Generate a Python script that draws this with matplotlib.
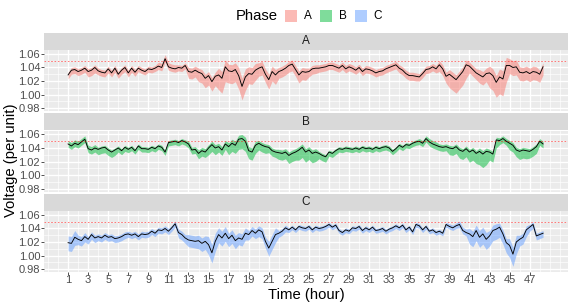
import numpy as np
import matplotlib
matplotlib.use("Agg")
import matplotlib.pyplot as plt
from matplotlib.patches import Rectangle

plt.rcParams["font.family"] = ["Liberation Sans", "DejaVu Sans"]

# ---------------- data ----------------
phases = ["A", "B", "C"]
phase_colors = ["#F8766D", "#00BA38", "#619CFF"]
x_breaks = list(range(1, 48, 2))
y_breaks = [0.98, 1.00, 1.02, 1.04, 1.06]
limit_v = 1.05
samples_per_hour = 3
hours = list(range(1, 49))

mean_A = [1.029, 1.036, 1.037, 1.034, 1.036, 1.039, 1.034, 1.036, 1.040, 1.035, 1.033, 1.032,
          1.038, 1.032, 1.039, 1.030, 1.036, 1.040, 1.032, 1.039, 1.033, 1.039, 1.036, 1.034,
          1.038, 1.037, 1.039, 1.042, 1.040, 1.053, 1.041, 1.039, 1.038, 1.040, 1.039, 1.043,
          1.034, 1.033, 1.036, 1.033, 1.031, 1.024, 1.028, 1.019, 1.027, 1.029, 1.024, 1.041,
          1.035, 1.034, 1.037, 1.028, 1.012, 1.026, 1.031, 1.030, 1.036, 1.039, 1.041, 1.030,
          1.022, 1.034, 1.029, 1.034, 1.036, 1.039, 1.043, 1.045, 1.037, 1.029, 1.034, 1.033,
          1.034, 1.038, 1.039, 1.039, 1.040, 1.041, 1.043, 1.043, 1.041, 1.039, 1.043, 1.038,
          1.041, 1.039, 1.036, 1.040, 1.034, 1.038, 1.037, 1.035, 1.032, 1.034, 1.035, 1.038,
          1.040, 1.042, 1.044, 1.039, 1.036, 1.031, 1.028, 1.028, 1.027, 1.026, 1.031, 1.037,
          1.038, 1.041, 1.038, 1.044, 1.038, 1.027, 1.030, 1.026, 1.022, 1.028, 1.034, 1.044,
          1.042, 1.037, 1.032, 1.029, 1.026, 1.031, 1.032, 1.028, 1.018, 1.026, 1.023, 1.043,
          1.043, 1.040, 1.041, 1.033, 1.032, 1.034, 1.031, 1.034, 1.033, 1.030, 1.041]

mean_B = [1.046, 1.043, 1.047, 1.045, 1.049, 1.053, 1.039, 1.037, 1.040, 1.038, 1.040, 1.041,
          1.037, 1.034, 1.037, 1.040, 1.036, 1.041, 1.038, 1.041, 1.036, 1.043, 1.039, 1.039,
          1.038, 1.041, 1.039, 1.043, 1.041, 1.034, 1.048, 1.049, 1.050, 1.048, 1.051, 1.049,
          1.046, 1.037, 1.038, 1.032, 1.036, 1.034, 1.040, 1.045, 1.040, 1.042, 1.037, 1.046,
          1.042, 1.047, 1.044, 1.053, 1.054, 1.050, 1.036, 1.034, 1.044, 1.047, 1.044, 1.042,
          1.041, 1.036, 1.034, 1.033, 1.032, 1.034, 1.029, 1.032, 1.034, 1.037, 1.041, 1.034,
          1.037, 1.032, 1.034, 1.032, 1.029, 1.027, 1.034, 1.032, 1.036, 1.039, 1.038, 1.040,
          1.039, 1.038, 1.040, 1.038, 1.041, 1.039, 1.040, 1.038, 1.041, 1.039, 1.041, 1.042,
          1.040, 1.035, 1.039, 1.044, 1.041, 1.045, 1.044, 1.047, 1.049, 1.050, 1.047, 1.054,
          1.049, 1.046, 1.044, 1.042, 1.041, 1.042, 1.040, 1.039, 1.042, 1.037, 1.035, 1.039,
          1.034, 1.037, 1.032, 1.035, 1.031, 1.035, 1.034, 1.031, 1.052, 1.051, 1.054, 1.050,
          1.047, 1.044, 1.037, 1.035, 1.037, 1.036, 1.035, 1.038, 1.042, 1.050, 1.046]

mean_C = [1.019, 1.018, 1.027, 1.024, 1.022, 1.028, 1.024, 1.031, 1.026, 1.028, 1.026, 1.030,
          1.027, 1.028, 1.025, 1.026, 1.028, 1.031, 1.032, 1.030, 1.032, 1.028, 1.032, 1.031,
          1.032, 1.036, 1.033, 1.038, 1.037, 1.040, 1.036, 1.041, 1.047, 1.034, 1.031, 1.026,
          1.023, 1.022, 1.021, 1.022, 1.018, 1.021, 1.016, 1.004, 1.021, 1.031, 1.026, 1.033,
          1.025, 1.030, 1.022, 1.026, 1.024, 1.033, 1.031, 1.037, 1.033, 1.038, 1.035, 1.021,
          1.011, 1.021, 1.031, 1.033, 1.036, 1.041, 1.038, 1.042, 1.038, 1.043, 1.041, 1.040,
          1.043, 1.038, 1.042, 1.040, 1.041, 1.043, 1.046, 1.042, 1.045, 1.037, 1.034, 1.038,
          1.036, 1.041, 1.040, 1.043, 1.037, 1.041, 1.038, 1.042, 1.037, 1.038, 1.040, 1.036,
          1.039, 1.041, 1.044, 1.041, 1.045, 1.038, 1.042, 1.035, 1.046, 1.044, 1.038, 1.043,
          1.036, 1.038, 1.034, 1.036, 1.033, 1.046, 1.043, 1.041, 1.044, 1.046, 1.037, 1.034,
          1.032, 1.028, 1.037, 1.027, 1.032, 1.024, 1.029, 1.037, 1.039, 1.042, 1.032, 1.019,
          1.015, 1.002, 1.020, 1.024, 1.027, 1.038, 1.042, 1.046, 1.029, 1.031, 1.033]

# hourly spread of the band below / above the mean
lo_A = [.006, .006, .008, .006, .006, .006, .006, .005, .005, .005, .005, .005,
        .010, .014, .014, .022, .018, .020, .015, .012, .014, .010, .010, .012,
        .008, .006, .006, .006, .006, .006, .006, .006, .006, .007, .007, .006,
        .006, .010, .020, .020, .010, .012, .022, .025, .012, .012, .012, .012]
hi_A = [.004, .004, .004, .004, .004, .004, .004, .004, .004, .006, .006, .004,
        .006, .006, .006, .010, .010, .012, .010, .008, .008, .006, .006, .006,
        .005, .005, .005, .005, .005, .005, .005, .005, .005, .005, .005, .005,
        .005, .006, .007, .007, .006, .008, .010, .012, .010, .008, .008, .006]
lo_B = [.005, .005, .006, .008, .008, .006, .005, .005, .005, .005, .005, .005,
        .006, .008, .010, .008, .012, .015, .012, .010, .008, .010, .012, .015,
        .014, .008, .006, .005, .005, .005, .005, .005, .005, .005, .005, .005,
        .006, .006, .010, .012, .015, .020, .012, .006, .010, .012, .010, .006]
hi_B = [.005, .005, .005, .003, .003, .003, .003, .003, .003, .003, .003, .003,
        .004, .005, .005, .005, .006, .006, .006, .004, .004, .005, .005, .005,
        .005, .003, .003, .003, .003, .003, .003, .003, .003, .003, .003, .004,
        .005, .004, .004, .004, .004, .005, .004, .004, .004, .004, .004, .004]
lo_C = [.012, .008, .007, .006, .006, .006, .005, .005, .005, .005, .005, .008,
        .010, .012, .015, .012, .012, .010, .008, .010, .012, .006, .004, .004,
        .004, .004, .004, .004, .004, .004, .004, .004, .004, .004, .004, .004,
        .004, .004, .004, .005, .015, .015, .015, .015, .018, .010, .006, .006]
hi_C = [.010, .006, .004, .004, .004, .004, .004, .004, .004, .004, .004, .005,
        .008, .008, .012, .010, .008, .008, .006, .006, .010, .004, .003, .003,
        .003, .003, .003, .003, .003, .003, .003, .003, .003, .003, .003, .003,
        .003, .003, .004, .005, .008, .010, .008, .006, .010, .006, .004, .004]

means = [mean_A, mean_B, mean_C]
los = [lo_A, lo_B, lo_C]
his = [hi_A, hi_B, hi_C]

# ---------------- figure ----------------
W, H = 574, 303
fig = plt.figure(figsize=(W / 100, H / 100), dpi=100)
fig.patch.set_facecolor("white")

px_left, px_right = 44.3, 567.5
strip_tops = [32.5, 113, 193.5]
strip_h = 17.5
panel_h = 61
xlim = (-1.37, 50.77)
ylim = (0.9756, 1.0659)

tick_col = "#4D4D4D"
fs_tick = 8
fs_title = 10.7

for i, ph in enumerate(phases):
    m = np.array(means[i])
    n = len(m)
    t = np.array(hours[0] + np.arange(n) / samples_per_hour)
    lo = m - np.repeat(los[i], samples_per_hour)[:n]
    hi = m + np.repeat(his[i], samples_per_hour)[:n]

    stop = strip_tops[i]
    ptop = stop + strip_h
    ax = fig.add_axes([px_left / W, 1 - (ptop + panel_h) / H,
                       (px_right - px_left) / W, panel_h / H])
    ax.set_facecolor("#EBEBEB")
    ax.fill_between(t, lo, hi, color=phase_colors[i], alpha=0.5, lw=0, zorder=2)
    ax.plot(t, m, color="black", lw=0.65, zorder=3)
    ax.axhline(limit_v, color="red", lw=0.6, ls=(0, (2, 2)), alpha=0.6, zorder=4)

    ax.set_xlim(*xlim)
    ax.set_ylim(*ylim)
    ax.set_xticks(x_breaks)
    ax.set_xticks(list(range(-1, 51)), minor=True)
    ax.set_yticks(y_breaks)
    ax.set_yticks([0.99, 1.01, 1.03, 1.05], minor=True)
    ax.grid(which="major", color="white", lw=0.95, zorder=0)
    ax.grid(which="minor", color="white", lw=0.45, zorder=0)
    ax.set_axisbelow(True)
    for s in ax.spines.values():
        s.set_visible(False)
    ax.tick_params(axis="both", which="minor", length=0)
    ax.tick_params(axis="both", which="major", length=2.0, width=0.6,
                   color="#333333", labelsize=fs_tick, labelcolor=tick_col, pad=1.0)
    ax.tick_params(axis="x", which="major", pad=0.5)
    ax.set_yticklabels([f"{v:.2f}" for v in y_breaks])
    if i < 2:
        ax.tick_params(axis="x", which="major", length=0, labelbottom=False)
    else:
        ax.set_xticklabels([str(v) for v in x_breaks])

    sax = fig.add_axes([px_left / W, 1 - ptop / H, (px_right - px_left) / W, strip_h / H])
    sax.set_facecolor("#D9D9D9")
    sax.set_xticks([])
    sax.set_yticks([])
    for s in sax.spines.values():
        s.set_visible(False)
    sax.text(0.5, 0.5, ph, ha="center", va="center", fontsize=8.5,
             color="#1A1A1A", transform=sax.transAxes)

fig.text((px_left + px_right) / 2 / W, 1 - 294.5 / H, "Time (hour)",
         ha="center", va="center", fontsize=fs_title)
fig.text(11 / W, 1 - 160 / H, "Voltage (per unit)", ha="center", va="center",
         rotation=90, fontsize=fs_title)

# legend (drawn by hand so the title sits left of the keys, as in ggplot)
fig.text(256.5 / W, 1 - 16 / H, "Phase", ha="center", va="center", fontsize=fs_title)
key_x = [285, 320, 355]
for kx, col, lab in zip(key_x, phase_colors, phases):
    fig.add_artist(Rectangle((kx / W, 1 - 22 / H), 12 / W, 12 / H,
                             transform=fig.transFigure, facecolor=col,
                             alpha=0.5, edgecolor="none"))
    fig.text((kx + 23) / W, 1 - 16 / H, lab, ha="center", va="center",
             fontsize=8.5, color="black")

fig.savefig("out.png", dpi=100)
